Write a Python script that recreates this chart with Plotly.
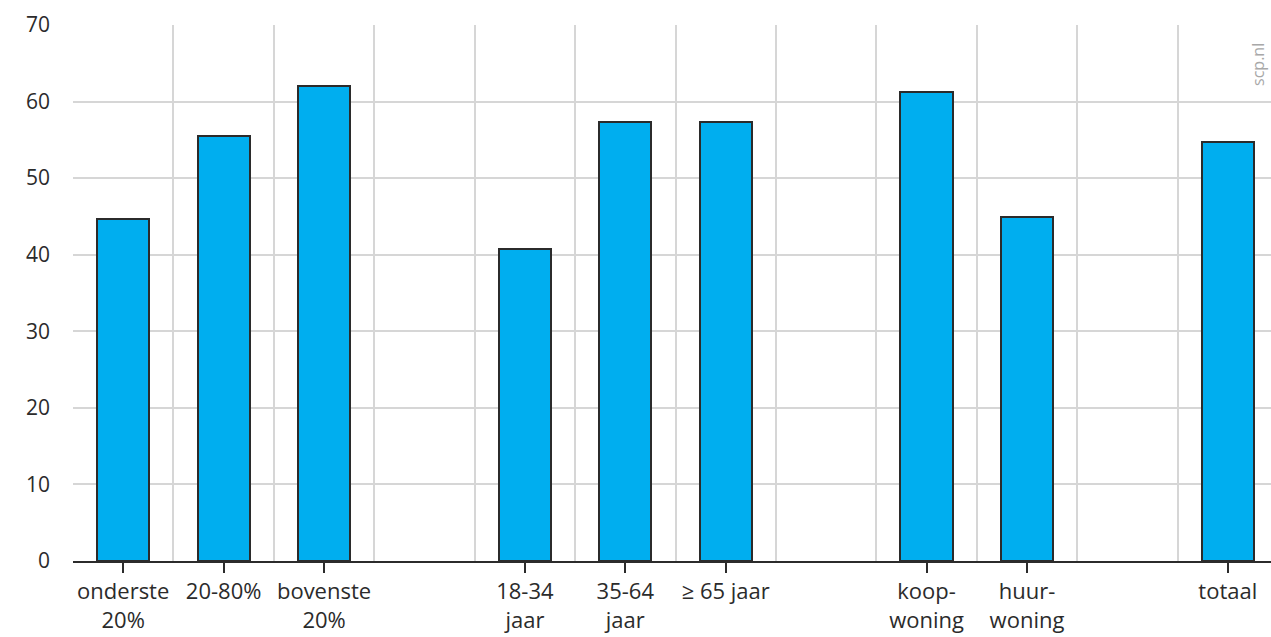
import plotly.graph_objects as go

categories = ["onderste<br>20%", "20-80%", "bovenste<br>20%", "",
              "18-34<br>jaar", "35-64<br>jaar", "≥ 65 jaar", "",
              "koop-<br>woning", "huur-<br>woning", "", "totaal"]
values = [44.7, 55.5, 62.0, None,
          40.7, 57.3, 57.3, None,
          61.2, 44.9, None, 54.7]
y_ticks = [0, 10, 20, 30, 40, 50, 60, 70]

x_pos = list(range(len(categories)))
tick_pos = [i for i, c in enumerate(categories) if c]
tick_txt = [c for c in categories if c]

FONT = "Open Sans"
DARK = "#2b2b2b"
GRID = "#d6d6d6"

fig = go.Figure(go.Bar(
    x=x_pos, y=values, width=0.52,
    marker=dict(color="#00AEEF", line=dict(color=DARK, width=2)),
    hoverinfo="skip",
))

fig.update_layout(
    width=1271, height=637,
    margin=dict(l=73, r=0, t=25, b=76),
    paper_bgcolor="white", plot_bgcolor="white",
    showlegend=False,
    font=dict(family=FONT, size=20, color=DARK),
    bargap=0,
)
fig.update_xaxes(
    range=[-0.5, 11.43], automargin=False,
    tickmode="array", tickvals=tick_pos, ticktext=tick_txt,
    showgrid=False, zeroline=False,
    ticks="outside", ticklen=10, tickwidth=2, tickcolor=DARK,
    showline=True, linecolor=DARK, linewidth=2,
    tickfont=dict(family=FONT, size=22, color=DARK),
    minor=dict(tickmode="linear", tick0=-0.5, dtick=1, showgrid=True,
               gridcolor=GRID, gridwidth=2, ticks=""),
)
fig.update_yaxes(
    range=[0, 70], tickmode="array", tickvals=y_ticks, automargin=False,
    showgrid=True, gridcolor=GRID, gridwidth=2,
    zeroline=False, showline=False, ticks="",
    ticklabelstandoff=22,
    tickfont=dict(family=FONT, size=21, color=DARK),
)
fig.add_annotation(
    text="scp.nl", xref="paper", yref="paper", x=0.989, y=0.927,
    xanchor="center", yanchor="middle",
    textangle=-90, showarrow=False,
    font=dict(family=FONT, size=16, color="#a8a8a8"),
)

fig.write_html(
    "out.html",
    config={"displayModeBar": False},
    post_script="document.body.style.margin='0';document.body.style.overflow='hidden';",
)
